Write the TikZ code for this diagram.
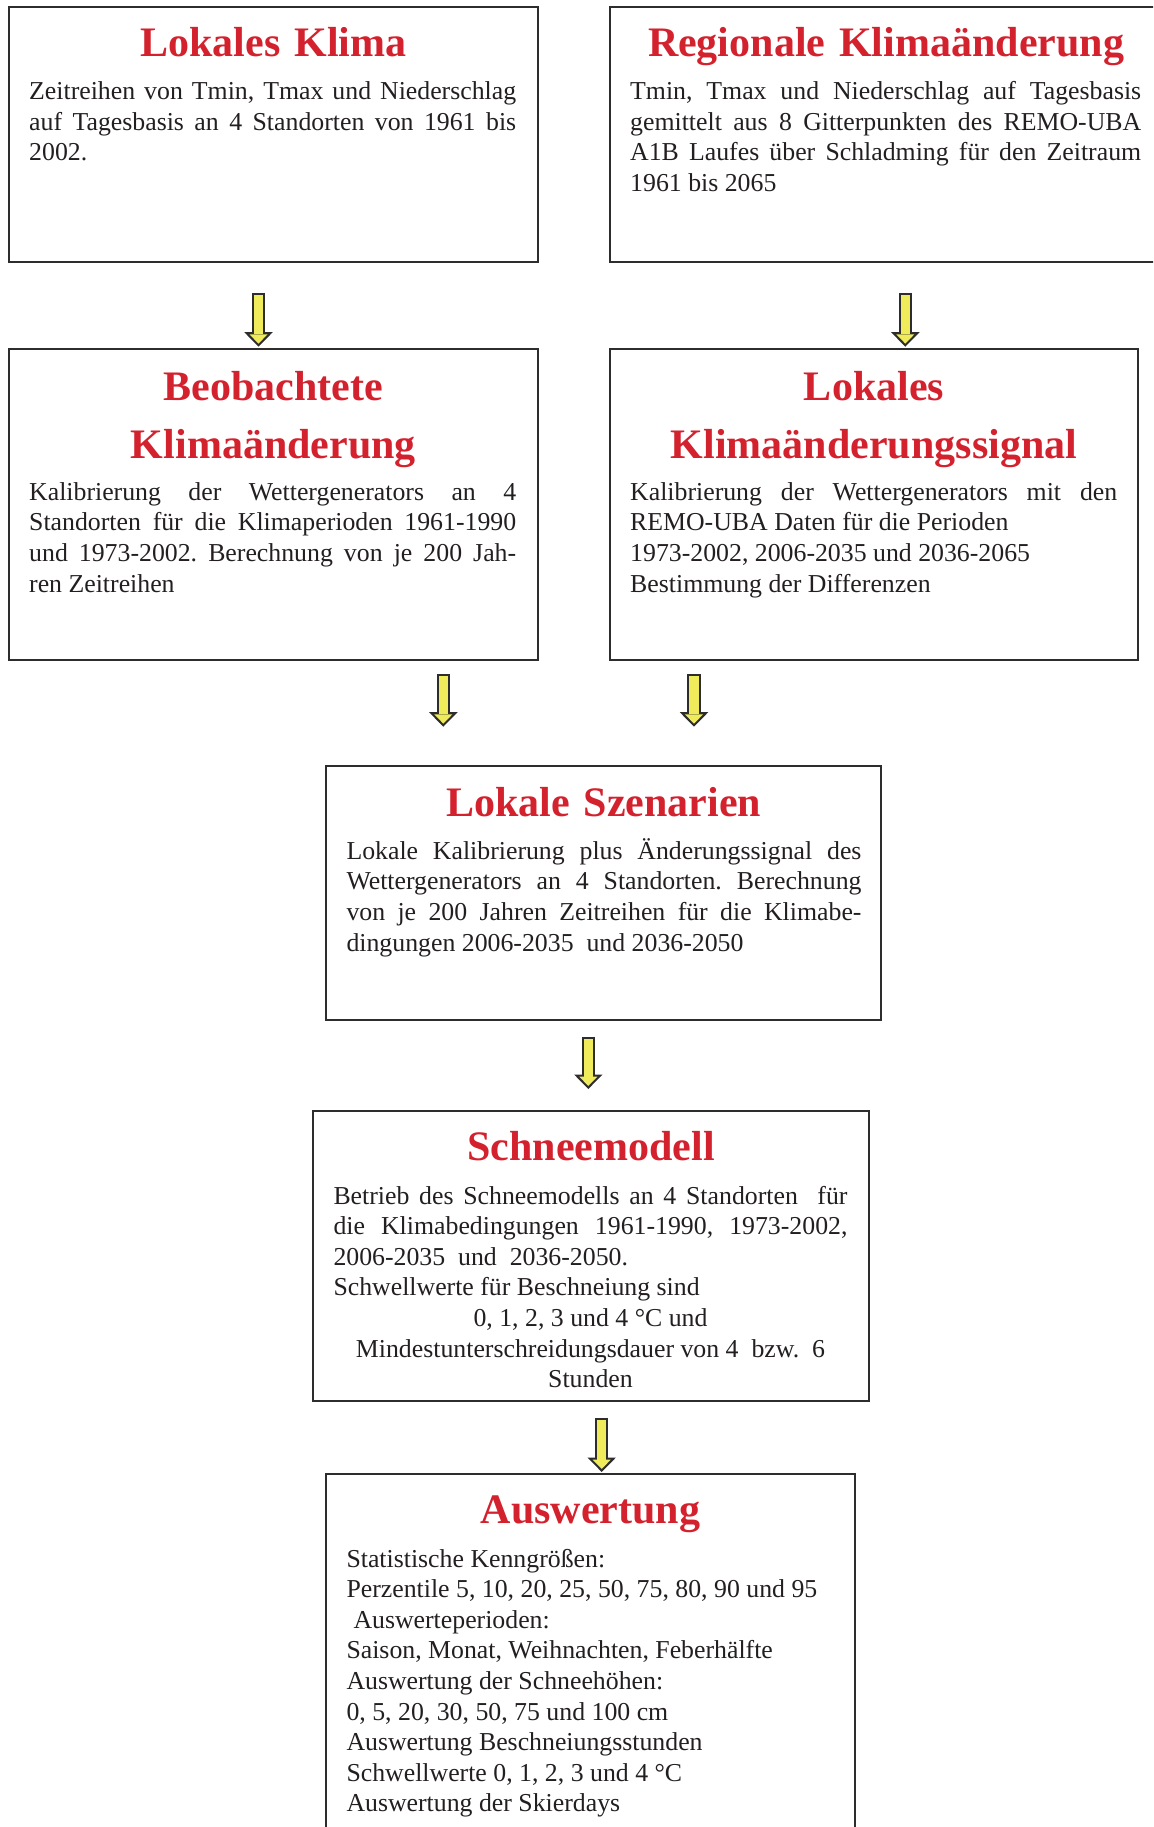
\documentclass[tikz,border=0pt]{standalone}
\usepackage{fontspec}
\setmainfont{Liberation Serif}
\usetikzlibrary{arrows.meta}
\definecolor{krot}{RGB}{211,33,45}
\definecolor{kgelb}{RGB}{239,235,90}
\definecolor{kgrau}{RGB}{45,45,45}
\definecolor{schrift}{RGB}{35,31,32}
\newcommand\titelfont{\fontsize{42}{58}\selectfont\bfseries}
\newcommand\inhaltfont{\fontsize{25.8}{30.6}\selectfont}
\tolerance=9999 \hbadness=10000 \hyphenpenalty=10000 \exhyphenpenalty=10000
\frenchspacing
\tikzset{
    KA/.style ={rectangle, draw=kgrau, line width=2pt, anchor=north west, inner sep=0pt},
    TI/.style ={text width=500pt, align=center, anchor=base, inner sep=0pt, font=\titelfont, text=krot},
    TX/.style ={text width=#1, align=justify, anchor=base west, inner sep=0pt, font=\inhaltfont, text=schrift},
    PF/.style ={draw=kgrau, line width=13.5pt, shorten >=1pt, -{Triangle[length=14.5pt,width=28.5pt,line width=0pt]},
        postaction={draw=kgelb, line width=9.1pt, shorten <=2.2pt, shorten >=4.1pt, -{Triangle[length=9.2pt,width=18pt,line width=0pt]}}}}

\begin{document}
\begin{tikzpicture}[x=1pt,y=-1pt]
        \clip (0,0) rectangle (1153,1827);
        % Kaesten
        \node[KA, minimum width=528.7pt, minimum height=255pt] (k1) at (8,5.7) {};
        \node[KA, minimum width=552pt, minimum height=255pt] (k2) at (609,5.7) {};
        \node[KA, minimum width=528.7pt, minimum height=311pt] (k3) at (8,347.7) {};
        \node[KA, minimum width=528pt, minimum height=311pt] (k4) at (609,347.7) {};
        \node[KA, minimum width=555pt, minimum height=253.7pt] (k5) at (325.3,765.3) {};
        \node[KA, minimum width=555.5pt, minimum height=290pt] (k6) at (312.3,1110) {};
        \node[KA, minimum width=528.5pt, minimum height=400pt] (k7) at (325.3,1473) {};
        % Ueberschriften
        \node[TI] (t1) at ([yshift=-50.5pt]k1.north) {Lokales Klima};
        \node[TI] (t2) at ([yshift=-50.5pt]k2.north) {Regionale Klimaänderung};
        \node[TI] (t3) at ([yshift=-52.3pt]k3.north) {Beobachtete\\Klimaänderung};
        \node[TI] (t4) at ([yshift=-52.3pt]k4.north) {Lokales\\Klimaänderungssignal};
        \node[TI] (t5) at ([yshift=-51pt]k5.north) {Lokale Szenarien};
        \node[TI] (t6) at ([yshift=-50.5pt]k6.north) {Schneemodell};
        \node[TI] (t7) at ([yshift=-50.5pt]k7.north) {Auswertung};
        % Texte
        \node[TX=487pt] (b1) at ([xshift=21pt,yshift=-94pt]k1.north west) {Zeitreihen von Tmin, Tmax und Niederschlag\linebreak auf Tagesbasis an 4 Standorten von 1961 bis\linebreak 2002.};
        \node[TX=511pt] (b2) at ([xshift=21pt,yshift=-94pt]k2.north west) {Tmin, Tmax und Niederschlag auf Tagesbasis\linebreak gemittelt aus 8 Gitterpunkten des REMO-UBA\linebreak A1B Laufes über Schladming für den Zeitraum\linebreak 1961 bis 2065};
        \node[TX=487pt] (b3) at ([xshift=21pt,yshift=-152.5pt]k3.north west) {Kalibrierung der Wettergenerators an 4\linebreak Standorten für die Klimaperioden 1961-1990\linebreak und 1973-2002. Berechnung von je 200 Jah-\linebreak ren Zeitreihen};
        \node[TX=487pt] (b4) at ([xshift=21pt,yshift=-152.5pt]k4.north west) {Kalibrierung der Wettergenerators mit den\linebreak REMO-UBA Daten für die Perioden\newline 1973-2002, 2006-2035 und 2036-2065\newline Bestimmung der Differenzen};
        \node[TX=515pt] (b5) at ([xshift=21pt,yshift=-94pt]k5.north west) {Lokale Kalibrierung plus Änderungssignal des\linebreak Wettergenerators an 4 Standorten. Berechnung\linebreak von je 200 Jahren Zeitreihen für die Klimabe-\linebreak dingungen 2006-2035~ und 2036-2050};
        \node[TX=514pt] (b6) at ([xshift=21pt,yshift=-94pt]k6.north west) {Betrieb des Schneemodells an 4 Standorten~ für\linebreak die Klimabedingungen 1961-1990, 1973-2002,\linebreak 2006-2035~ und~ 2036-2050.\par Schwellwerte für Beschneiung sind\par
            {\centering 0, 1, 2, 3 und 4 °C und\par Mindestunterschreidungsdauer von 4~ bzw.~ 6\par Stunden\par}};
        \node[TX=510pt, align=flush left] (b7) at ([xshift=21pt,yshift=-94pt]k7.north west) {Statistische Kenngrößen:\\ Perzentile 5, 10, 20, 25, 50, 75, 80, 90 und 95\\ \hspace*{7pt}Auswerteperioden:\\ Saison, Monat, Weihnachten, Feberhälfte\\ Auswertung der Schneehöhen:\\ 0, 5, 20, 30, 50, 75 und 100 cm\\ Auswertung Beschneiungsstunden\\ Schwellwerte 0, 1, 2, 3 und 4 °C\\ Auswertung der Skierdays};
        % Pfeile
        \coordinate (p1) at (258.5,292.7);
        \coordinate (p2) at (905.3,292.7);
        \coordinate (p3) at (443.3,674);
        \coordinate (q3) at (443.3,727.7);
        \coordinate (p4) at (694,674);
        \coordinate (q4) at (694,727.7);
        \coordinate (p5) at (588.3,1036.7);
        \coordinate (q5) at (588.3,1090);
        \coordinate (p6) at (601.7,1417.7);
        \draw[PF] (p1) -- (p1 |- k3.north);
        \draw[PF] (p2) -- (p2 |- k4.north);
        \draw[PF] (p3) -- (q3);
        \draw[PF] (p4) -- (q4);
        \draw[PF] (p5) -- (q5);
        \draw[PF] (p6) -- (p6 |- k7.north);
    \end{tikzpicture}
\end{document}
